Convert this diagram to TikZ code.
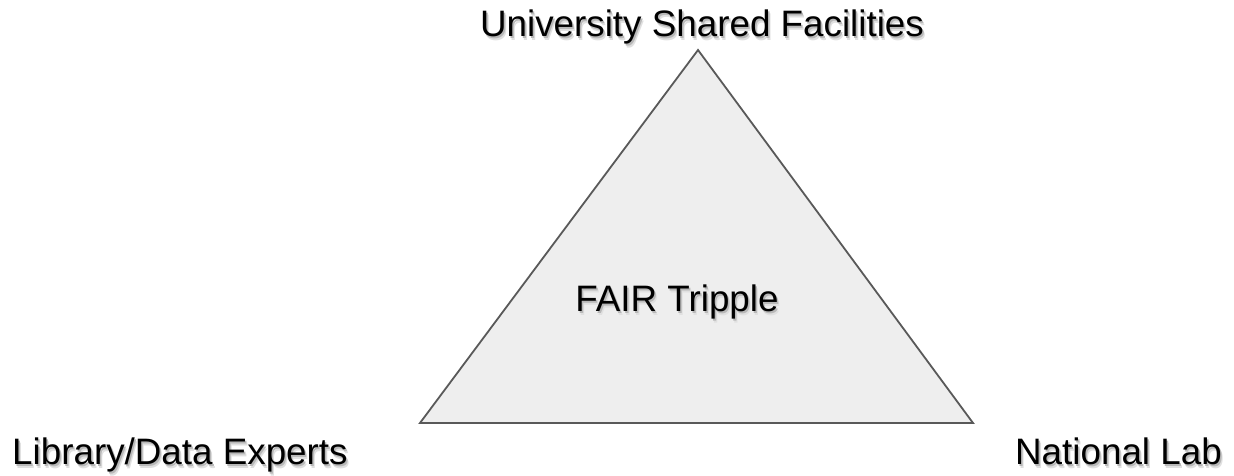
\documentclass[tikz,border=0pt]{standalone}
\usepackage{xcolor}
\usepackage{fontspec}
\setmainfont{Liberation Sans}
\usepackage{tikz}
\usetikzlibrary{positioning}

\definecolor{triline}{HTML}{595959}
\definecolor{trifill}{HTML}{EEEEEE}

% soft drop shadow under a label
\newcommand{\shadowtext}[1]{%
  \makebox[0pt][l]{\raisebox{-3.5pt}{\hspace{2.5pt}\textcolor{black!12}{#1}}}%
  \makebox[0pt][l]{\raisebox{-2pt}{\hspace{1.5pt}\textcolor{black!28}{#1}}}#1}

\begin{document}
\begin{tikzpicture}[x=1pt, y=1pt]
\tikzstyle{triangle}=[draw=triline, fill=trifill, line width=1.8pt, line join=miter]
\tikzstyle{label}=[inner sep=0pt, font=\fontsize{36.8}{40}\selectfont]

\useasboundingbox (0,0) rectangle (1234,476);

% the triangle
\coordinate (apex) at (698,426);
\coordinate (left) at (420,53);
\coordinate (right) at (973,53);
\path[triangle] (apex) -- (left) -- (right) -- cycle;

% corner labels
\node[label, anchor=base] (univ) at (702,439) {\shadowtext{University Shared Facilities}};
\node[label, anchor=base west] (library) at (12,11) {\shadowtext{Library/Data Experts}};
\node[label, anchor=base east] (natlab) at (1222,11) {\shadowtext{National Lab}};

% centre label
\node[label, anchor=base] (fair) at (677,164) {\shadowtext{FAIR Tripple}};
\end{tikzpicture}
\end{document}
